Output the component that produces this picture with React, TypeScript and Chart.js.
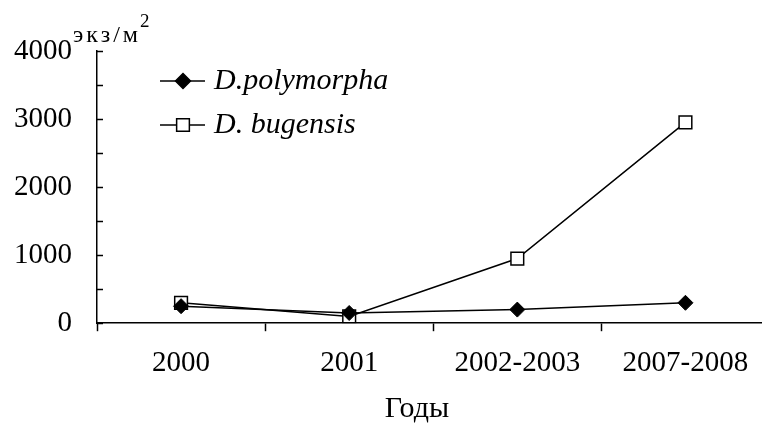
import React, { useEffect, useRef } from "react";
import { Chart, registerables } from "chart.js";

Chart.register(...registerables);

const categories = ["2000", "2001", "2002-2003", "2007-2008"];
const polymorpha = [250, 150, 200, 300];
const bugensis = [300, 100, 950, 2950];
const seriesNames = ["D.polymorpha", "D. bugensis"];
const yMin = 0;
const yMax = 4000;
const yMinorStep = 500;
const yLabelStep = 1000;
const unitText = "экз/м";
const unitSup = "2";
const xTitle = "Годы";

const FONT = "'Liberation Serif', 'Times New Roman', serif";

const overlayPlugin = {
  id: "overlay",
  afterDraw(chart: any) {
    const ctx = chart.ctx;
    const y = chart.scales.y;
    const area = chart.chartArea;
    ctx.save();
    ctx.strokeStyle = "#000";
    ctx.lineWidth = 1.5;
    // inner minor ticks on y axis
    for (let v = yMin; v <= yMax; v += yMinorStep) {
      const py = Math.round(y.getPixelForValue(v)) + 0.5;
      ctx.beginPath();
      ctx.moveTo(area.left, py);
      ctx.lineTo(area.left + 6, py);
      ctx.stroke();
    }
    // unit label
    ctx.fillStyle = "#000";
    ctx.textBaseline = "alphabetic";
    ctx.textAlign = "left";
    ctx.font = `24px ${FONT}`;
    try { (ctx as any).letterSpacing = "3px"; } catch (e) {}
    ctx.fillText(unitText, 73, 42);
    const w = ctx.measureText(unitText).width;
    ctx.font = `19px ${FONT}`;
    ctx.fillText(unitSup, 73 + w - 1, 27);
    try { (ctx as any).letterSpacing = "0px"; } catch (e) {}
    // x axis title
    ctx.font = `30px ${FONT}`;
    ctx.textAlign = "center";
    ctx.fillText(xTitle, 417, 417);
    ctx.textAlign = "left";
    // legend
    const items = chart.data.datasets;
    items.forEach((ds: any, i: number) => {
      const ly = 81 + i * 44;
      ctx.strokeStyle = "#000";
      ctx.lineWidth = 1.5;
      ctx.beginPath();
      ctx.moveTo(160, ly);
      ctx.lineTo(205, ly);
      ctx.stroke();
      const r = ds.pointRadius;
      ctx.beginPath();
      if (ds.pointStyle === "rectRot") {
        ctx.moveTo(183, ly - r);
        ctx.lineTo(183 + r, ly);
        ctx.lineTo(183, ly + r);
        ctx.lineTo(183 - r, ly);
        ctx.closePath();
      } else {
        const s = r * Math.SQRT1_2;
        ctx.rect(183 - s, ly - s, 2 * s, 2 * s);
      }
      ctx.fillStyle = ds.pointBackgroundColor;
      ctx.fill();
      ctx.stroke();
      ctx.fillStyle = "#000";
      ctx.font = `italic 30px ${FONT}`;
      ctx.textBaseline = "alphabetic";
      ctx.fillText(ds.label, 214, ly + 8);
    });
    ctx.restore();
  },
};

export default function App() {
  const ref = useRef<HTMLCanvasElement | null>(null);
  useEffect(() => {
    document.body.style.margin = "0";
    const chart = new Chart(ref.current as HTMLCanvasElement, {
      type: "line",
      data: {
        labels: categories,
        datasets: [
          {
            label: seriesNames[0],
            data: polymorpha,
            borderColor: "#000",
            borderWidth: 1.5,
            pointStyle: "rectRot",
            pointRadius: 7.5,
            pointBackgroundColor: "#000",
            pointBorderColor: "#000",
            pointBorderWidth: 1,
            tension: 0,
          },
          {
            label: seriesNames[1],
            data: bugensis,
            borderColor: "#000",
            borderWidth: 1.5,
            pointStyle: "rect",
            pointRadius: 9,
            pointBackgroundColor: "#fff",
            pointBorderColor: "#000",
            pointBorderWidth: 1.5,
            tension: 0,
          },
        ],
      },
      options: {
        animation: false,
        responsive: false,
        maintainAspectRatio: false,
        layout: { padding: { left: 14, top: 51, right: 0, bottom: 28 } },
        plugins: {
          legend: { display: false },
          tooltip: { enabled: false },
        },
        scales: {
          x: {
            type: "category",
            offset: true,
            grid: {
              offset: true,
              drawOnChartArea: false,
              drawTicks: true,
              tickLength: 8,
              tickColor: "#000",
              tickWidth: 1.5,
            },
            border: { color: "#000", width: 1.5 },
            ticks: {
              color: "#000",
              font: { family: FONT, size: 29 },
              padding: 15,
              maxRotation: 0,
              autoSkip: false,
            },
          },
          y: {
            min: yMin,
            max: yMax,
            grid: { drawOnChartArea: false, drawTicks: false },
            border: { color: "#000", width: 1.5 },
            afterFit: (scale: any) => {
              scale.width = 83;
            },
            ticks: {
              stepSize: yMinorStep,
              color: "#000",
              font: { family: FONT, size: 29 },
              padding: 25,
              callback: (v: any) => (Number(v) % yLabelStep === 0 ? String(v) : ""),
            },
          },
        },
      },
      plugins: [overlayPlugin],
    });
    return () => chart.destroy();
  }, []);
  return (
    <div style={{ width: 762, height: 424, overflow: "hidden", background: "#fff" }}>
      <canvas ref={ref} width={780} height={424} style={{ display: "block" }} />
    </div>
  );
}
